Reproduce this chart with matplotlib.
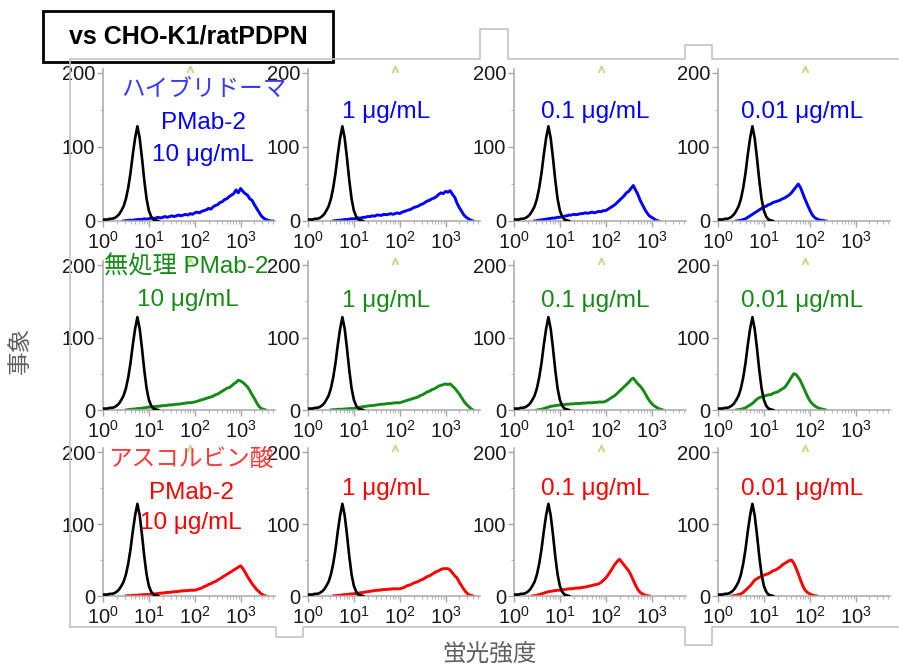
import numpy as np
import matplotlib
matplotlib.use('Agg')
import matplotlib.pyplot as plt
from matplotlib.patches import Rectangle
from matplotlib.lines import Line2D
from matplotlib.ticker import FixedLocator, NullFormatter

plt.rcParams['font.family'] = ['Liberation Sans', 'Noto Sans CJK JP', 'DejaVu Sans']
plt.rcParams['mathtext.fontset'] = 'custom'
plt.rcParams['mathtext.rm'] = 'Liberation Sans'

# データ: 0.05デケード刻みのヒストグラム (先頭ビンの log10 位置 + カウント)
step = 0.05
control_start = 0.0
control = [2, 2, 2, 3, 3, 4, 6, 9, 14, 20, 30, 45, 65, 90, 112, 128, 112, 85, 55, 30,
           14, 6, 2, 1, 0]

concs = ['10 μg/mL', '1 μg/mL', '0.1 μg/mL', '0.01 μg/mL']
row_names = ['ハイブリドーマ', '無処理', 'アスコルビン酸']
gate_log = 1.9

# ハイブリドーマ (青)
hyb_start = [0.45, 0.55, 0.45, 0.40]
hyb_10 = [0, 0.5, 1, 1, 1, 1.5, 2, 2, 2, 3, 2.5, 3, 4, 3.5, 4, 5, 4, 5, 6, 5, 6, 7, 6, 7, 8, 7, 8, 9, 8, 10,
          9, 11, 12, 11, 13, 14, 15, 17, 16, 19, 21, 22, 25, 26, 29, 30, 33, 35, 37, 42, 38, 44, 40, 37,
          35, 30, 28, 22, 17, 12, 7, 4, 2, 1, 0, 0]
hyb_1 = [0, 0.5, 1, 1, 1.5, 2, 2, 2.5, 3, 3, 3.5, 4, 4, 5, 5, 6, 6, 7, 6.5, 8, 8, 7.5, 9, 8.5, 9, 10, 9,
         10, 11, 10, 12, 13, 14, 15, 16, 18, 19, 20, 22, 23, 25, 27, 28, 30, 31, 33, 36, 38, 37, 40, 39,
         41, 36, 32, 24, 18, 13, 8, 5, 3, 1, 0]
hyb_01 = [0, 0.5, 1, 1.5, 2, 2.5, 3, 3.5, 4, 4, 5, 5, 6, 6.5, 7, 8, 8, 9, 8.5, 9, 10, 10, 11, 10.5, 11, 12,
          11, 12, 13, 12.5, 14, 14, 16, 18, 20, 22, 25, 28, 31, 34, 38, 40, 44, 48, 42, 36, 28, 22, 16,
          11, 7, 5, 3, 1, 0]
hyb_001 = [0, 0.5, 1, 2, 3, 5, 7, 9, 11, 13, 15, 17, 19, 20, 22, 23, 25, 26, 27, 28, 30, 31, 33, 35, 38,
           42, 46, 50, 45, 37, 29, 22, 15, 9, 5, 3, 1.5, 1, 0.5, 0]

# 無処理 (緑)
unt_start = [0.50, 0.50, 0.50, 0.40]
unt_10 = [0, 0.5, 1, 1, 1.5, 2, 2, 2.5, 3, 3.5, 4, 4, 4.5, 5, 5, 5.5, 6, 6, 6.5, 7, 7, 7.5, 8, 8, 8.5, 9,
          9.5, 10, 10, 10.5, 11, 12, 13, 14, 15, 16, 17, 18, 19, 21, 22, 24, 26, 28, 30, 31, 33, 36, 38,
          41, 40, 38, 35, 32, 27, 21, 16, 10, 5, 2, 1, 0]
unt_1 = [0, 0.5, 0.5, 1, 1, 1, 1.5, 1.5, 2, 2, 2, 3, 3.5, 4, 4.5, 5, 5.5, 6, 6, 6.5, 7, 7.5, 8, 8, 8.5, 9,
         9, 9.5, 10, 10, 10, 11, 12, 13, 14, 15, 16, 17, 18, 20, 21, 23, 25, 26, 28, 29, 31, 33, 34, 35,
         36, 35, 36, 33, 30, 26, 22, 17, 12, 8, 5, 2, 0]
unt_01 = [0, 0.5, 1, 2, 3, 4, 5, 5.5, 6, 6.5, 7, 7, 7.5, 8, 8, 8.5, 8.5, 9, 9, 9, 9.5, 9.5, 10, 10, 10,
          10.5, 10.5, 11, 11, 11, 12, 14, 16, 18, 20, 23, 26, 29, 32, 35, 38, 42, 44, 40, 36, 33, 29, 24,
          18, 13, 9, 6, 4, 2, 1, 0]
unt_001 = [0, 0.5, 1, 2, 3, 5, 7, 9, 12, 15, 17, 18, 19, 20, 21, 21, 23, 24, 25, 27, 29, 31, 35, 40, 45,
           50, 49, 45, 40, 33, 26, 19, 13, 9, 6, 4, 2.5, 1.5, 1, 0]

# アスコルビン酸 (赤)
asc_start = [0.50, 0.55, 0.40, 0.30]
asc_10 = [0, 0.5, 0.5, 1, 1, 1, 1.5, 1.5, 2, 2, 2, 2.5, 3, 3, 3.5, 4, 4, 4.5, 5, 5, 5.5, 6, 6, 6.5, 7, 7,
          7.5, 7.5, 8, 8, 8, 9, 10, 11, 13, 14, 16, 17, 19, 20, 22, 24, 26, 28, 30, 32, 34, 36, 38, 40,
          42, 38, 33, 27, 22, 17, 13, 9, 6, 3, 1, 0]
asc_1 = [0, 0.5, 1, 1, 1.5, 2, 2, 2.5, 3, 3, 3.5, 4, 4.5, 5, 5.5, 6, 6.5, 7, 7.5, 8, 8, 8.5, 9, 9, 9.5,
         9.5, 10, 10, 10, 10, 11, 12, 14, 15, 16, 18, 19, 20, 22, 23, 25, 27, 28, 30, 32, 34, 35, 37, 38,
         38, 38, 36, 32, 28, 25, 19, 14, 9, 5, 2, 1, 0]
asc_01 = [0, 0.5, 1, 2, 3, 4, 5, 6, 6.5, 7, 7.5, 8, 8, 8.5, 9, 9.5, 10, 10, 10.5, 11, 11, 11.5, 12, 12.5,
          13, 14, 14.5, 15.5, 16, 17, 19, 22, 25, 29, 34, 39, 44, 48, 51, 47, 43, 39, 35, 29, 22, 15, 9,
          5, 3, 1.5, 0.5, 0]
asc_001 = [0, 0.5, 1, 2, 3, 5, 8, 11, 14, 18, 22, 24, 26, 27, 29, 30, 31, 33, 35, 36, 38, 40, 43, 45, 47,
           49, 50, 46, 39, 31, 22, 14, 8, 5, 3, 1.5, 0.5, 0]

rows = [
    ('#0000ff', hyb_start, [hyb_10, hyb_1, hyb_01, hyb_001]),
    ('#168a16', unt_start, [unt_10, unt_1, unt_01, unt_001]),
    ('#ff0000', asc_start, [asc_10, asc_1, asc_01, asc_001]),
]

W, H = 899, 668
fig = plt.figure(figsize=(W / 100, H / 100), dpi=100)
fig.patch.set_facecolor('white')


def fx(x):
    return x / W


def fy(y):
    return 1 - y / H


# 灰色の枠線
frame = '#c4c4c4'
top_x = [70, 70, 480, 480, 508, 508, 685, 685, 712, 712, 899]
top_y = [627, 59, 59, 29, 29, 59, 59, 45, 45, 59, 59]
fig.add_artist(Line2D([fx(v) for v in top_x], [fy(v) for v in top_y], color=frame, lw=1.2))
bot_x = [70, 276, 276, 303, 303, 685, 685, 712, 712, 899]
bot_y = [627, 627, 637, 637, 627, 627, 645, 645, 627, 627]
fig.add_artist(Line2D([fx(v) for v in bot_x], [fy(v) for v in bot_y], color=frame, lw=1.2))

col_left = [103, 308, 514, 718]
row_y0 = [221, 410, 596]
row_y200 = [73, 265, 452]
ax_w = 172
ymax = 205

for r, (color, starts, series) in enumerate(rows):
    y0, y200 = row_y0[r], row_y200[r]
    top = y0 - ymax / 200 * (y0 - y200)
    for c in range(4):
        ax = fig.add_axes([fx(col_left[c]), fy(y0), ax_w / W, (y0 - top) / H])
        ax.set_xscale('log')
        ax.set_xlim(1, 10 ** 3.75)
        ax.set_ylim(0, ymax)
        ax.patch.set_alpha(0)

        cx = 10 ** (control_start + step * np.arange(len(control)))
        ax.plot(cx, control, color='black', lw=1.9, zorder=3)
        vals = series[c]
        sx = 10 ** (starts[c] + step * np.arange(len(vals)))
        ax.plot(sx, vals, color=color, lw=2.1, zorder=2)

        ax.plot([10 ** gate_log], [ymax + 1], marker=r'$\wedge$', ms=4.5,
                color='#c2dd8a', clip_on=False)

        for s in ['top', 'right']:
            ax.spines[s].set_visible(False)
        for s in ['left', 'bottom']:
            ax.spines[s].set_color('#a8a8a8')
            ax.spines[s].set_linewidth(1.1)

        ax.xaxis.set_major_locator(FixedLocator([1, 10, 100, 1000]))
        ax.set_xticklabels([r'$\mathregular{10^{%d}}$' % k for k in range(4)])
        minors = [m * 10 ** d for d in range(4) for m in range(2, 10) if m * 10 ** d < 10 ** 3.75]
        ax.xaxis.set_minor_locator(FixedLocator(minors))
        ax.xaxis.set_minor_formatter(NullFormatter())
        ax.set_yticks([0, 100, 200])
        ax.set_yticks([50, 150], minor=True)
        ax.tick_params(axis='both', which='major', length=4, width=1, color='#a8a8a8',
                       labelsize=14.5, labelcolor='#1a1a1a')
        ax.tick_params(axis='both', which='minor', length=2.5, width=0.8, color='#b8b8b8')
        ax.tick_params(axis='y', which='major', pad=1.5)
        ax.tick_params(axis='x', which='major', pad=3)

# ラベル
fs = 17.5
fig.text(fx(204), fy(90), row_names[0], color='#3838ff', fontsize=17, ha='center', va='center')
fig.text(fx(203), fy(123), 'PMab-2', color='#0000ff', fontsize=fs, ha='center', va='center')
fig.text(fx(203), fy(155), concs[0], color='#0000ff', fontsize=fs, ha='center', va='center')
fig.text(fx(186), fy(267), row_names[1] + ' PMab-2', color='#168a16', fontsize=fs,
         ha='center', va='center')
fig.text(fx(188), fy(300), concs[0], color='#168a16', fontsize=fs, ha='center', va='center')
fig.text(fx(191), fy(460), row_names[2], color='#ff3838', fontsize=17, ha='center', va='center')
fig.text(fx(191), fy(493), 'PMab-2', color='#ff0000', fontsize=fs, ha='center', va='center')
fig.text(fx(191), fy(523), concs[0], color='#ff0000', fontsize=fs, ha='center', va='center')

conc_x = [386, 595, 802]
conc_y = [112, 301, 489]
for r, (color, _, _) in enumerate(rows):
    for k in range(3):
        fig.text(fx(conc_x[k]), fy(conc_y[r]), concs[k + 1], color=color, fontsize=fs,
                 ha='center', va='center')

fig.text(fx(20), fy(350), '事象', color='#606060', fontsize=17, rotation=90,
         ha='center', va='center', family='Noto Sans CJK JP')
fig.text(fx(490), fy(655), '蛍光強度', color='#606060', fontsize=17,
         ha='center', va='center', family='Noto Sans CJK JP')

# タイトル枠
fig.add_artist(Rectangle((fx(43), fy(62)), (333 - 43) / W, (62 - 11) / H,
                         transform=fig.transFigure, facecolor='white', edgecolor='black', lw=2))
fig.text(fx(188), fy(37), 'vs CHO-K1/ratPDPN', fontsize=18, fontweight='bold',
         ha='center', va='center', color='black')

fig.savefig('out.png', dpi=100)
